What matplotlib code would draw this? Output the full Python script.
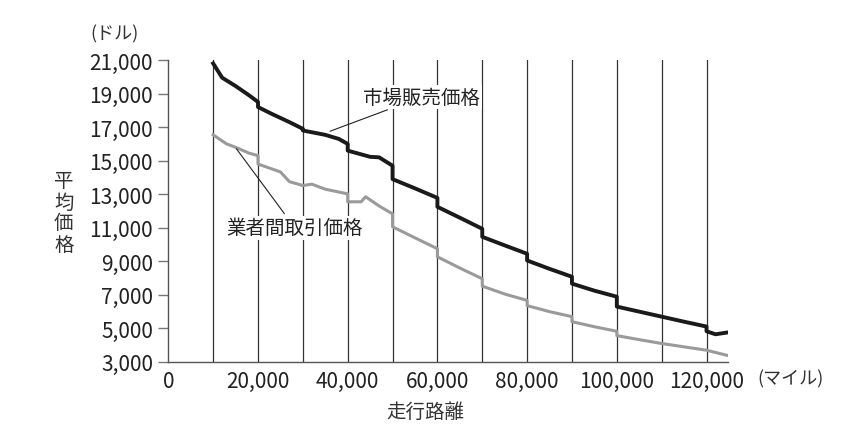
import numpy as np
import matplotlib
matplotlib.use("Agg")
import matplotlib.pyplot as plt

plt.rcParams["font.family"] = ["Noto Sans CJK JP", "DejaVu Sans"]

# mileage breakpoints (segments separated by vertical jumps at every 10,000 miles)
market_x = [10000, 12000, 15000, 18000, 20000, 20000, 23000, 27000, 30000,
            30000, 35000, 38000, 40000, 40000, 45000, 47000, 50000,
            50000, 55000, 60000, 60000, 65000, 70000, 70000, 75000, 80000,
            80000, 85000, 90000, 90000, 95000, 100000, 100000, 105000, 110000,
            110000, 115000, 120000, 120000, 122000, 124500]
market_y = [20800, 19950, 19450, 18900, 18500, 18200, 17800, 17300, 16900,
            16800, 16540, 16300, 16000, 15600, 15230, 15200, 14700,
            13900, 13350, 12780, 12250, 11600, 10940, 10460, 9950, 9450,
            9050, 8550, 8080, 7670, 7250, 6890, 6300, 6000, 5700,
            5700, 5400, 5110, 4830, 4650, 4750]

dealer_x = [10000, 13000, 15000, 18000, 20000, 20000, 25000, 27000, 30000,
            30000, 32000, 35000, 40000, 40000, 43000, 44000, 47000, 50000,
            50000, 55000, 60000, 60000, 65000, 70000, 70000, 75000, 80000,
            80000, 85000, 90000, 90000, 95000, 100000, 100000, 105000, 110000,
            110000, 115000, 120000, 124500]
dealer_y = [16540, 16000, 15800, 15450, 15300, 14800, 14330, 13750, 13520,
            13520, 13600, 13300, 13020, 12550, 12550, 12850, 12300, 11830,
            11060, 10400, 9750, 9270, 8600, 7960, 7520, 7050, 6670,
            6360, 6000, 5700, 5400, 5100, 4830, 4570, 4330, 4100,
            4100, 3900, 3700, 3400]

vlines = list(range(10000, 130000, 10000))
yticks = list(range(3000, 21001, 2000))
xticks = list(range(0, 120001, 20000))

fig = plt.figure(figsize=(8.5, 4.27), dpi=100)
ax = fig.add_axes([0.198, 0.150, 0.658, 0.707])

for v in vlines:
    ax.axvline(v, color="#333333", lw=0.9, zorder=1)

ax.plot(dealer_x, dealer_y, color="#9a9a9a", lw=2.2, zorder=2)
ax.plot(market_x, market_y, color="#1a1a1a", lw=2.8, zorder=3)

ax.set_xlim(0, 124700)
ax.set_ylim(3000, 21000)
ax.set_yticks(yticks)
ax.set_yticklabels([f"{t:,}" for t in yticks], fontsize=15, color="#222222")
ax.set_xticks(xticks)
ax.set_xticklabels([f"{t:,}" for t in xticks], fontsize=15, color="#222222")
ax.tick_params(axis="y", length=7, width=1, color="#777777", pad=4)
ax.tick_params(axis="x", length=0, pad=6)
for s in ["top", "right"]:
    ax.spines[s].set_visible(False)
for s in ["left", "bottom"]:
    ax.spines[s].set_color("#555555")
    ax.spines[s].set_linewidth(1)

fig.text(0.135, 0.92, "(ドル)", fontsize=13, ha="center", va="center", color="#333333")
fig.text(0.93, 0.112, "(マイル)", fontsize=13, ha="center", va="center", color="#333333")
fig.text(0.075, 0.5, "平\n均\n価\n格", fontsize=14, ha="center", va="center",
         linespacing=1.0, color="#333333")
fig.text(0.5, 0.035, "走行路離", fontsize=14, ha="center", va="center", color="#333333")

ax.annotate("市場販売価格", xy=(35500, 16700), xytext=(43500, 18800), fontsize=14,
            va="center", ha="left", color="#222222",
            bbox=dict(facecolor="white", edgecolor="none", pad=1),
            arrowprops=dict(arrowstyle="-", color="#222222", lw=0.8))
ax.annotate("業者間取引価格", xy=(14800, 15850), xytext=(13000, 11000), fontsize=14,
            va="center", ha="left", color="#222222",
            bbox=dict(facecolor="white", edgecolor="none", pad=1),
            arrowprops=dict(arrowstyle="-", color="#222222", lw=0.8))

fig.savefig("out.png", dpi=100)
